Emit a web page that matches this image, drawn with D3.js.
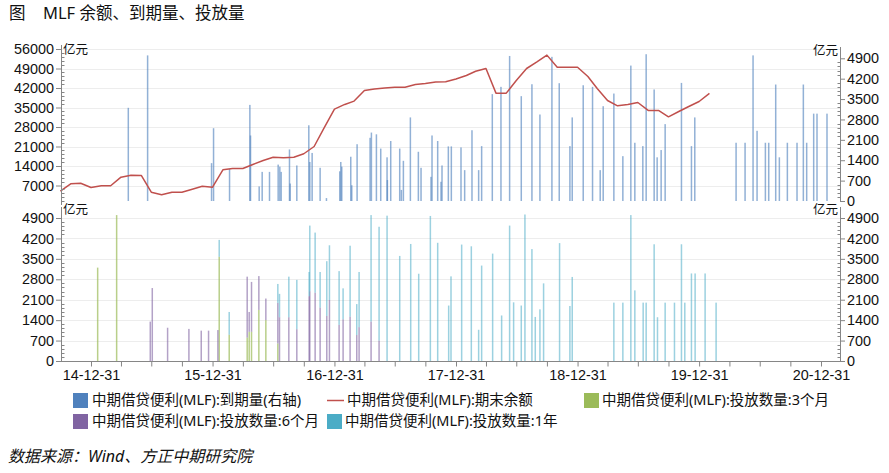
<!DOCTYPE html>
<html>
<head>
<meta charset="utf-8">
<script src="https://cdn.jsdelivr.net/npm/d3@7"></script>
<style>
  body { margin: 0; background: #fff; }
  svg text { font-family: "Noto Sans", "Noto Sans CJK SC", sans-serif; fill: #111; }
  svg .tick text { font-family: "Liberation Sans", "Noto Sans", sans-serif; }
</style>
</head>
<body>
<svg id="chart" width="889" height="473"></svg>
<script>
// ---------- data (亿元) ----------
// MLF outstanding balance, month end
const balanceMonths = [
  "2014-09","2014-10","2014-11","2014-12",
  "2015-01","2015-02","2015-03","2015-04","2015-05","2015-06","2015-07","2015-08","2015-09","2015-10","2015-11","2015-12",
  "2016-01","2016-02","2016-03","2016-04","2016-05","2016-06","2016-07","2016-08","2016-09","2016-10","2016-11","2016-12",
  "2017-01","2017-02","2017-03","2017-04","2017-05","2017-06","2017-07","2017-08","2017-09","2017-10","2017-11","2017-12",
  "2018-01","2018-02","2018-03","2018-04","2018-05","2018-06","2018-07","2018-08","2018-09","2018-10","2018-11","2018-12",
  "2019-01","2019-02","2019-03","2019-04","2019-05","2019-06","2019-07","2019-08","2019-09","2019-10","2019-11","2019-12",
  "2020-01"
];
const balanceValues = [
  5000, 7600, 7800, 6300,
  6900, 6900, 10000, 10700, 10600, 4600, 3650, 4600, 4600, 5650, 6750, 6400,
  12650, 13100, 13100, 14550, 15950, 17150, 16950, 17150, 18400, 21000, 27700, 34400,
  36100, 37300, 41100, 41650, 42000, 42300, 42300, 43250, 43600, 44150, 44250, 45250,
  46500, 48000, 49000, 40150, 40150, 44700, 49000, 51350, 53800, 49450, 49450, 49450,
  46150, 41800, 37500, 35600, 36100, 36800, 33950, 33950, 31650, 33550, 35350, 37150,
  40050
];

// MLF maturities (right axis)
const maturityDates = [
  "2015-04-22","2015-06-19","2015-12-28","2016-01-03","2016-02-20","2016-04-21","2016-04-23",
  "2016-05-19","2016-05-28","2016-06-19","2016-07-15","2016-07-20","2016-07-24","2016-08-18","2016-08-20",
  "2016-09-09","2016-10-15","2016-10-18","2016-10-25","2016-11-18","2016-12-07",
  "2017-01-16","2017-01-19","2017-01-22","2017-02-18","2017-02-21","2017-03-09","2017-04-17","2017-04-21",
  "2017-05-06","2017-05-19","2017-06-07","2017-06-08","2017-06-18","2017-07-15","2017-07-20","2017-07-26",
  "2017-08-16","2017-09-09","2017-09-17","2017-10-17","2017-10-20","2017-11-06","2017-11-16","2017-11-19",
  "2017-12-08","2017-12-17","2018-01-15","2018-01-26","2018-02-17","2018-03-09","2018-03-18",
  "2018-04-19","2018-05-15","2018-06-10","2018-07-15","2018-08-16","2018-09-09","2018-10-15","2018-11-06",
  "2018-12-08","2018-12-15","2019-01-17","2019-02-14","2019-03-09","2019-03-18","2019-04-19","2019-05-16",
  "2019-06-09","2019-06-21","2019-07-15","2019-07-25","2019-08-18","2019-08-27","2019-09-08","2019-09-20",
  "2019-11-08","2019-12-08","2019-12-18",
  "2020-04-20","2020-05-17","2020-06-10","2020-06-22","2020-07-17","2020-07-27","2020-08-17","2020-08-28",
  "2020-09-21","2020-10-20","2020-11-08","2020-11-18","2020-12-09","2020-12-19","2021-01-18"
];
const maturityValues = [
  3200, 5000, 1300, 2500, 1100, 3300, 2250,
  500, 1000, 1000, 1250, 1180, 1000, 1770, 600,
  1220, 2600, 1340, 1650, 1140, 100,
  1020, 1340, 1180, 1520, 540, 1950, 2170, 2350,
  2290, 1800, 1500, 720, 2060, 1800, 380, 1380,
  2870, 1690, 1140, 830, 2250, 2060, 660, 1220,
  1875, 1875, 1840, 1060, 2430, 1060, 1885,
  3670, 3920, 4980, 3600, 4010, 2970, 4950, 4045,
  1885, 2870, 3975, 3920, 1060, 3255, 3690, 1540,
  4650, 2000, 1885, 5040, 3830, 1500, 1750, 2640,
  4055, 1885, 2870,
  2000, 2000, 5000, 2410, 2000, 2000, 4000, 1500,
  2000, 2000, 4000, 2000, 3000, 3000, 3000
];

// MLF issuance by tenor
const issueDates = [
  "2015-01-20","2015-03-18","2015-06-27","2015-07-03","2015-08-18","2015-10-21","2015-11-27","2015-12-19",
  "2016-01-16","2016-01-20","2016-02-19","2016-04-13","2016-04-19","2016-04-26","2016-05-18","2016-06-08",
  "2016-07-14","2016-07-19","2016-08-16","2016-09-09","2016-10-16","2016-10-18","2016-11-03","2016-11-18",
  "2016-12-08","2016-12-16","2017-01-14","2017-01-26","2017-02-16","2017-03-08","2017-03-15","2017-04-20",
  "2017-05-14","2017-06-07","2017-07-15","2017-08-17","2017-09-10","2017-10-15","2017-11-06","2017-12-09",
  "2017-12-16","2018-01-17","2018-02-15","2018-03-09","2018-03-18","2018-04-20","2018-05-17","2018-06-10",
  "2018-06-22","2018-07-15","2018-07-26","2018-08-16","2018-08-26","2018-09-09","2018-09-20","2018-11-07",
  "2018-12-08","2018-12-15","2019-04-19","2019-05-16","2019-06-09","2019-06-21","2019-07-16","2019-07-25",
  "2019-08-18","2019-08-28","2019-09-20","2019-10-18","2019-11-08","2019-11-18","2019-12-08","2019-12-19",
  "2020-01-18","2020-02-20"
];
const issue3M = [
  3200, 5000, 0, 0, 0, 0, 0, 0,
  0, 3570, 900, 800, 1000, 1000, 1750, 1400,
  600, 0, 0, 0, 0, 0, 0, 0,
  0, 0, 0, 0, 0, 0, 0, 0,
  0, 0, 0, 0, 0, 0, 0, 0,
  0, 0, 0, 0, 0, 0, 0, 0,
  0, 0, 0, 0, 0, 0, 0, 0,
  0, 0, 0, 0, 0, 0, 0, 0,
  0, 0, 0, 0, 0, 0, 0, 0,
  0, 0
];
const issue6M = [
  0, 0, 1350, 2500, 1140, 1100, 1040, 1040,
  1060, 0, 0, 2090, 680, 1710, 1160, 740,
  1390, 1500, 1500, 1090, 2220, 2390, 2340, 1830,
  1545, 2090, 1240, 1430, 1520, 890, 1160, 1350,
  700, 0, 0, 0, 0, 0, 0, 0,
  0, 0, 0, 0, 0, 0, 0, 0,
  0, 0, 0, 0, 0, 0, 0, 0,
  0, 0, 0, 0, 0, 0, 0, 0,
  0, 0, 0, 0, 0, 0, 0, 0,
  0, 0
];
const issue1Y = [
  0, 0, 0, 0, 0, 0, 0, 0,
  0, 580, 780, 0, 0, 0, 0, 0,
  650, 800, 1390, 1690, 830, 2250, 2060, 1220,
  1875, 1875, 1840, 1060, 2430, 1060, 1890, 3650,
  3900, 4980, 3600, 4010, 2990, 4970, 4050, 1900,
  2900, 3990, 3930, 1070, 3270, 3680, 1560, 4640,
  2010, 1900, 5020, 3835, 1510, 1770, 2660, 4040,
  1885, 2880, 2000, 2000, 5000, 2420, 2000, 2000,
  4000, 1500, 2000, 2000, 4000, 2000, 3000, 3000,
  3000, 2000
];

const balanceTicks = [7000, 14000, 21000, 28000, 35000, 42000, 49000, 56000];
const amountTicks = [0, 700, 1400, 2100, 2800, 3500, 4200, 4900];
const yearTicks = ["2014-12-31","2015-12-31","2016-12-31","2017-12-31","2018-12-31","2019-12-31","2020-12-31"];

const seriesNames = {
  maturity: "中期借贷便利(MLF):到期量(右轴)",
  balance: "中期借贷便利(MLF):期末余额",
  m3: "中期借贷便利(MLF):投放数量:3个月",
  m6: "中期借贷便利(MLF):投放数量:6个月",
  y1: "中期借贷便利(MLF):投放数量:1年"
};
const colors = { maturity: "#4f81bd", balance: "#c0504d", m3: "#9bbb59", m6: "#8064a2", y1: "#4bacc6" };

// ---------- layout ----------
const svg = d3.select("#chart");
const parse = d3.timeParse("%Y-%m-%d");
const plotL = 61, plotR = 840;
const axisColor = "#868686";
const tickFont = "14.4px";

const x = d3.scaleTime()
  .domain([parse("2014-12-31"), parse("2020-12-31")])
  .range([91, 821]);

const yBal = d3.scaleLinear().domain([0, 56000]).range([205, 49]);
const yMat = d3.scaleLinear().domain([0, 4900]).range([201, 58.3]);
const yIss = d3.scaleLinear().domain([0, 4900]).range([361, 218]);

// ---------- title ----------
svg.append("text").attr("x", 9).attr("y", 19).style("font-size", "16.5px").text("图");
svg.append("text").attr("x", 43).attr("y", 19).style("font-size", "16.5px").text("MLF 余额、到期量、投放量");

// ---------- gridlines ----------
const grid = svg.append("g").attr("stroke", "#ededed").attr("stroke-width", 1);
grid.selectAll("line.gt").data(balanceTicks).join("line")
  .attr("x1", plotL).attr("x2", plotR)
  .attr("y1", d => Math.round(yBal(d)) + 0.5).attr("y2", d => Math.round(yBal(d)) + 0.5);
grid.selectAll("line.gb").data(amountTicks.slice(1)).join("line")
  .attr("x1", plotL).attr("x2", plotR)
  .attr("y1", d => Math.round(yIss(d)) + 0.5).attr("y2", d => Math.round(yIss(d)) + 0.5);

// ---------- top panel: maturities ----------
const barW = 1.5;
const maturities = maturityDates.map((d, i) => ({ date: parse(d), value: maturityValues[i] }));
svg.append("g").selectAll("rect").data(maturities).join("rect")
  .attr("x", d => x(d.date) - barW / 2)
  .attr("width", barW)
  .attr("y", d => yMat(d.value))
  .attr("height", d => yMat(0) - yMat(d.value))
  .attr("fill", colors.maturity)
  .attr("fill-opacity", 0.62);

// ---------- top panel: outstanding balance ----------
const monthEnd = s => {
  const first = d3.timeParse("%Y-%m")(s);
  return d3.timeDay.offset(d3.timeMonth.offset(first, 1), -1);
};
const balance = balanceMonths.map((m, i) => ({ date: monthEnd(m), value: balanceValues[i] }));
svg.append("path")
  .datum(balance)
  .attr("fill", "none")
  .attr("stroke", colors.balance)
  .attr("stroke-width", 1.5)
  .attr("stroke-linejoin", "round")
  .attr("d", d3.line().x(d => x(d.date)).y(d => yBal(d.value)));

// ---------- bottom panel: issuance stacked by tenor ----------
const issues = issueDates.map((d, i) => ({ date: parse(d), m3: issue3M[i], m6: issue6M[i], y1: issue1Y[i] }));
const stack = d3.stack().keys(["m3", "m6", "y1"])(issues);
const issueOpacity = { m3: 0.7, m6: 0.6, y1: 0.55 };
svg.append("g").selectAll("g").data(stack).join("g")
  .attr("fill", s => colors[s.key])
  .attr("fill-opacity", s => issueOpacity[s.key])
  .selectAll("rect").data(s => s.filter(p => p[1] > p[0])).join("rect")
  .attr("x", p => x(p.data.date) - barW / 2)
  .attr("width", barW)
  .attr("y", p => yIss(p[1]))
  .attr("height", p => yIss(p[0]) - yIss(p[1]));

// ---------- axes ----------
const fmtInt = d3.format("d");
function styleAxis(g) {
  g.select(".domain").remove();
  g.selectAll(".tick line").attr("stroke", axisColor);
  g.selectAll(".tick text").style("font-size", tickFont).attr("fill", "#111");
}
function minorTicks(scale, values, xPos, dir) {
  const step = values[1] - values[0];
  const out = [];
  const lo = d3.min(values) - (values[0] === 0 ? 0 : step);
  const hi = d3.max(values);
  for (let v = lo; v < hi; v += step) {
    for (let k = 1; k < 5; k++) out.push(v + step * k / 5);
  }
  svg.append("g").selectAll("line").data(out.filter(v => v >= scale.domain()[0])).join("line")
    .attr("x1", xPos).attr("x2", xPos + dir * 3)
    .attr("y1", v => Math.round(scale(v)) + 0.5).attr("y2", v => Math.round(scale(v)) + 0.5)
    .attr("stroke", axisColor);
}

// top left (balance)
svg.append("g").attr("transform", `translate(${plotL},0)`)
  .call(d3.axisLeft(yBal).tickValues(balanceTicks).tickFormat(fmtInt).tickSize(5).tickPadding(2))
  .call(styleAxis);
svg.append("line").attr("x1", plotL + 0.5).attr("x2", plotL + 0.5).attr("y1", 45).attr("y2", 205).attr("stroke", axisColor);
minorTicks(yBal, balanceTicks, plotL + 0.5, 1);

// top right (maturities)
svg.append("g").attr("transform", `translate(${plotR},0)`)
  .call(d3.axisRight(yMat).tickValues(amountTicks).tickFormat(fmtInt).tickSize(5).tickPadding(2))
  .call(styleAxis);
svg.append("line").attr("x1", plotR + 0.5).attr("x2", plotR + 0.5).attr("y1", 47).attr("y2", 201).attr("stroke", axisColor);
minorTicks(yMat, amountTicks, plotR + 0.5, -1);

// bottom left / right (issuance)
svg.append("g").attr("transform", `translate(${plotL},0)`)
  .call(d3.axisLeft(yIss).tickValues(amountTicks).tickFormat(fmtInt).tickSize(5).tickPadding(2))
  .call(styleAxis);
svg.append("line").attr("x1", plotL + 0.5).attr("x2", plotL + 0.5).attr("y1", 207).attr("y2", 361).attr("stroke", axisColor);
minorTicks(yIss, amountTicks, plotL + 0.5, 1);

svg.append("g").attr("transform", `translate(${plotR},0)`)
  .call(d3.axisRight(yIss).tickValues(amountTicks).tickFormat(fmtInt).tickSize(5).tickPadding(2))
  .call(styleAxis);
svg.append("line").attr("x1", plotR + 0.5).attr("x2", plotR + 0.5).attr("y1", 207).attr("y2", 361).attr("stroke", axisColor);
minorTicks(yIss, amountTicks, plotR + 0.5, -1);

// unit labels
const unit = [[63, 54, "start"], [838, 55, "end"], [63, 214, "start"], [838, 214, "end"]];
unit.forEach(([ux, uy, anchor]) => {
  svg.append("text").attr("x", ux).attr("y", uy).attr("text-anchor", anchor)
    .style("font-size", "12.5px").text("亿元");
});

// x axis (quarter ticks, year labels)
const quarterTicks = d3.timeMonth.range(parse("2014-12-01"), parse("2021-01-01"), 3)
  .map(m => d3.timeDay.offset(d3.timeMonth.offset(m, 1), -1));
const yearDates = yearTicks.map(parse);
svg.append("line").attr("x1", plotL).attr("x2", plotR + 1)
  .attr("y1", 361.5).attr("y2", 361.5).attr("stroke", axisColor);
const xAxis = svg.append("g").attr("transform", "translate(0,361.5)")
  .call(d3.axisBottom(x).tickValues(quarterTicks).tickSize(5).tickPadding(3)
    .tickFormat(d => yearDates.some(y => +y === +d) ? d3.timeFormat("%y-%m-%d")(d) : ""));
styleAxis(xAxis);

// ---------- legend ----------
const legend = svg.append("g").style("font-size", "14.5px");
const items = [
  { key: "maturity", type: "rect", sx: 73, tx: 92, y: 400 },
  { key: "balance", type: "line", sx: 327, tx: 347, y: 400 },
  { key: "m3", type: "rect", sx: 584, tx: 602, y: 400 },
  { key: "m6", type: "rect", sx: 73, tx: 92, y: 421 },
  { key: "y1", type: "rect", sx: 327, tx: 345, y: 421 }
];
items.forEach(it => {
  if (it.type === "rect") {
    legend.append("rect").attr("x", it.sx).attr("y", it.y - 7).attr("width", 15).attr("height", 15)
      .attr("fill", colors[it.key]);
  } else {
    legend.append("line").attr("x1", it.sx).attr("x2", it.sx + 17)
      .attr("y1", it.y + 0.5).attr("y2", it.y + 0.5)
      .attr("stroke", colors[it.key]).attr("stroke-width", 1.5);
  }
  legend.append("text").attr("x", it.tx).attr("y", it.y).attr("dy", "0.36em").text(seriesNames[it.key]);
});

// ---------- source ----------
svg.append("text").attr("x", 8).attr("y", 462)
  .style("font-size", "16px").style("font-style", "italic")
  .text("数据来源：Wind、方正中期研究院");
</script>
</body>
</html>
